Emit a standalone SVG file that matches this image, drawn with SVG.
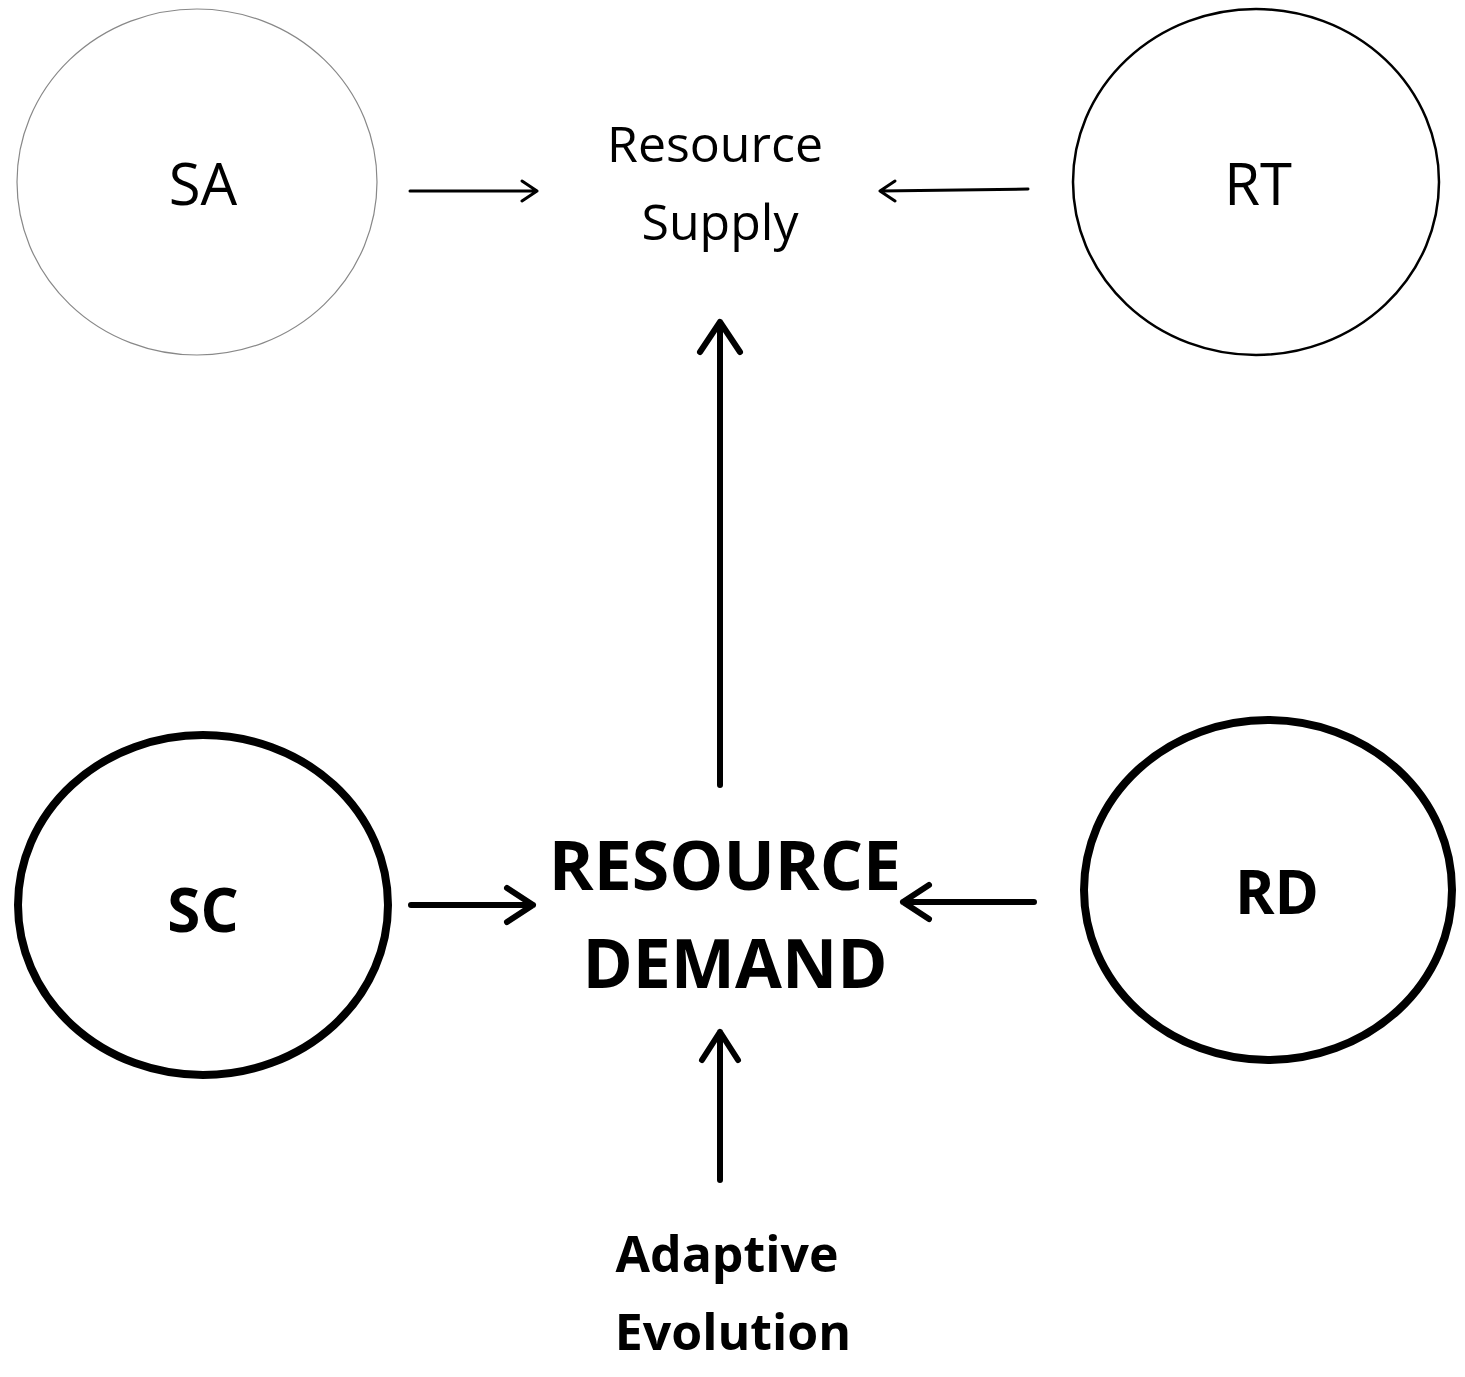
<svg xmlns="http://www.w3.org/2000/svg" width="1465" height="1377" viewBox="0 0 1465 1377">
<style>
text{font-family:"Open Sans","Liberation Sans",sans-serif;fill:#000;text-anchor:middle}
.b{font-weight:bold}
.c{fill:none;stroke:#000}
.a{fill:none;stroke:#000;stroke-linecap:round;stroke-linejoin:round}
</style>
<rect width="1465" height="1377" fill="#fff"/>
<g id="SA"><ellipse cx="197" cy="182" rx="180" ry="173" class="c" stroke="#777" style="stroke:#888;stroke-width:1.2"/><text x="203" y="205" font-size="58">SA</text></g>
<g id="RT"><ellipse cx="1256" cy="182" rx="183" ry="173" class="c" stroke-width="2.5"/><text x="1258" y="205" font-size="58">RT</text></g>
<g id="SC"><ellipse cx="203" cy="905" rx="185" ry="170" class="c" stroke-width="8"/><text class="b" x="203" y="932" font-size="60">SC</text></g>
<g id="RD"><ellipse cx="1268" cy="890" rx="184" ry="170" class="c" stroke-width="8"/><text class="b" x="1277" y="914" font-size="60">RD</text></g>
<g id="supply"><text x="715" y="162" font-size="50">Resource</text><text x="720" y="240" font-size="50">Supply</text></g>
<g id="demand"><text class="b" x="725" y="890" font-size="68">RESOURCE</text><text class="b" x="735" y="988" font-size="68">DEMAND</text></g>
<g id="adaptive"><text class="b" x="727" y="1272" font-size="50">Adaptive</text><text class="b" x="733" y="1350" font-size="50">Evolution</text></g>
<g id="connectors">
<path class="a" stroke-width="3" d="M410 191H537M522 181L537 191L522 201"/>
<path class="a" stroke-width="3" d="M1028 189L880 191M895 181L880 191L895 201"/>
<path class="a" stroke-width="6" d="M720 785V322M700 352L720 322L740 352"/>
<path class="a" stroke-width="6" d="M411 905H533M507 888L533 905L507 922"/>
<path class="a" stroke-width="6" d="M1034 902H903M929 885L903 902L929 919"/>
<path class="a" stroke-width="6" d="M720 1180V1032M702 1060L720 1032L738 1060"/>
</g>
</svg>
